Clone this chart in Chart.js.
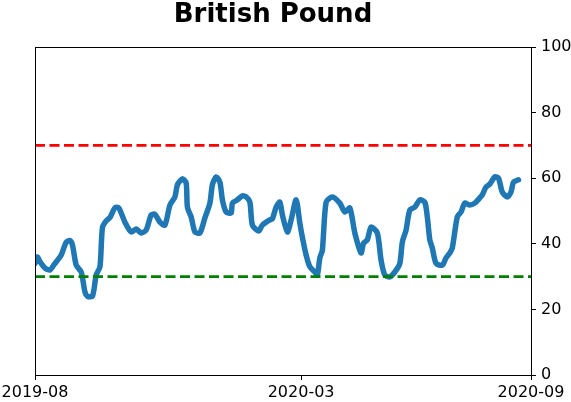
<!DOCTYPE html>
<html>
<head>
<meta charset="utf-8">
<script src="https://cdn.jsdelivr.net/npm/chart.js@4"></script>
<style>
  body { margin: 0; background: #fff; }
</style>
</head>
<body>
<canvas id="myChart" width="571" height="402"></canvas>
<script>
// days since 2019-08-01
const days = [0, 2, 4, 8, 12, 15, 17, 21, 25, 28, 30, 33, 37, 40, 42, 46, 49, 52, 54, 57,
  60, 64, 67, 72, 77, 81, 85, 89, 93, 96, 100, 104, 108, 112, 114, 118, 121, 122, 125, 128,
  132, 136, 140, 142, 145, 148, 150, 153, 157, 158, 162, 166, 169, 172, 174, 179, 182, 188, 190, 193,
  196, 198, 202, 205, 209, 212, 214, 217, 220, 224, 226, 228, 230, 233, 238, 244, 248, 252, 256, 261,
  263, 266, 269, 274, 277, 280, 284, 288, 292, 294, 297, 300, 304, 308, 312, 314, 316, 318, 321, 326,
  329, 332, 334, 338, 341, 344, 348, 352, 356, 358, 361, 364, 368, 371, 374, 378, 381, 383, 387];
const values = [34, 36, 34.5, 32.6, 32, 33.5, 34.5, 36.6, 40.5, 41, 39.6, 33.5, 31.4, 25.3, 24, 24, 30.5, 33, 45, 47,
  48, 51, 51, 46.6, 43.6, 44.5, 43.3, 44.2, 48.8, 49, 46.6, 45.7, 51.8, 54.3, 58, 59.8, 58.5, 51.2, 48.2, 43.6,
  43.3, 47.9, 52.4, 58, 60.4, 58.8, 53.4, 49.7, 49.4, 52.4, 53.4, 54.6, 54.3, 52.7, 45.7, 43.9, 45.7, 47.3, 47.6, 51.2,
  52.7, 48.8, 43.6, 47.3, 53.4, 46.3, 42, 36.6, 33, 31.4, 30.5, 35.7, 38, 52.7, 54.3, 52.4, 49.7, 50.9, 43.3, 37.2,
  40.2, 41.2, 45.1, 43.3, 35, 30.5, 29.9, 31.4, 34, 40.5, 44.2, 50.3, 51.2, 53.4, 52.7, 48.2, 41.2, 38.7, 34, 33.5,
  35.7, 37.2, 38.7, 48.2, 49.7, 52.4, 51.8, 52.4, 54, 54.9, 57.3, 58.2, 60.4, 60, 55.8, 54.3, 55.8, 58.8, 59.5];

const upperLevel = 70;
const lowerLevel = 30;
const xTickDays = [0, 213, 397];
const xTickLabels = ["2019-08", "2020-03", "2020-09"];
const titleText = "British Pound";

Chart.defaults.font.family = "'DejaVu Sans', sans-serif";
Chart.defaults.color = "#000";

const frame = {
    id: "frame",
    afterDraw(chart) {
        const a = chart.chartArea;
        const ctx = chart.ctx;
        ctx.save();
        ctx.strokeStyle = "#000";
        ctx.lineWidth = 1;
        ctx.strokeRect(Math.round(a.left) + 0.5, Math.round(a.top) + 0.5,
            Math.round(a.right - a.left), Math.round(a.bottom - a.top));
        ctx.fillStyle = "#000";
        ctx.font = "bold 26px 'DejaVu Sans'";
        ctx.textAlign = "center";
        ctx.textBaseline = "alphabetic";
        ctx.fillText(titleText, 273, 22);
        ctx.restore();
    },
};

const edgeX = [xTickDays[0], xTickDays[xTickDays.length - 1]];

new Chart(document.getElementById("myChart"), {
    type: "line",
    data: {
        datasets: [
            {
                data: days.map((d, i) => ({ x: d, y: values[i] })),
                borderColor: "#1f77b4",
                borderWidth: 5.5,
                pointRadius: 0,
                tension: 0.25,
                borderJoinStyle: "round",
                borderCapStyle: "round",
                order: 2,
            },
            {
                data: edgeX.map((d) => ({ x: d, y: upperLevel })),
                borderColor: "#ff0000",
                borderWidth: 2.8,
                borderDash: [10, 4.5],
                pointRadius: 0,
                order: 1,
            },
            {
                data: edgeX.map((d) => ({ x: d, y: lowerLevel })),
                borderColor: "#008000",
                borderWidth: 2.8,
                borderDash: [10, 4.5],
                pointRadius: 0,
                order: 1,
            },
        ],
    },
    options: {
        responsive: false,
        animation: false,
        layout: { padding: { top: 47, left: 35, right: 0, bottom: 0 } },
        plugins: {
            legend: { display: false },
            title: { display: false },
            tooltip: { enabled: false },
        },
        scales: {
            x: {
                type: "linear",
                min: xTickDays[0],
                max: xTickDays[xTickDays.length - 1],
                afterBuildTicks: (scale) => {
                    scale.ticks = xTickDays.map((v) => ({ value: v }));
                },
                afterFit: (scale) => {
                    scale.height = 27;
                    scale.paddingLeft = 0;
                    scale.paddingRight = 0;
                },
                ticks: {
                    autoSkip: false,
                    maxRotation: 0,
                    padding: 3,
                    font: { size: 16 },
                    callback: (v) => xTickLabels[xTickDays.indexOf(v)],
                },
                grid: { drawOnChartArea: false, tickLength: 5, color: "#000" },
                border: { color: "#000" },
            },
            y: {
                position: "right",
                min: 0,
                max: 100,
                afterFit: (scale) => {
                    scale.width = 40;
                    scale.paddingTop = 0;
                    scale.paddingBottom = 0;
                },
                ticks: { stepSize: 20, padding: 5, font: { size: 16 } },
                grid: { drawOnChartArea: false, tickLength: 5, color: "#000" },
                border: { color: "#000" },
            },
        },
    },
    plugins: [frame],
});
</script>
</body>
</html>
